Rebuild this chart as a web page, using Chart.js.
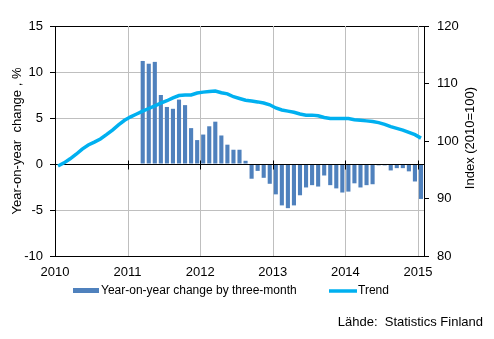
<!DOCTYPE html>
<html>
<head>
<meta charset="utf-8">
<script src="https://cdn.jsdelivr.net/npm/chart.js@4/dist/chart.umd.min.js"></script>
<style>
  html, body { margin: 0; padding: 0; background: #fff; }
  canvas { display: block; }
</style>
</head>
<body>
<canvas id="c" width="494" height="339"></canvas>
<script>
// Year labels on the time axis (one tick per January)
const years = ['2010', '2011', '2012', '2013', '2014', '2015'];

// Monthly categories, Jan 2010 .. Jan 2015
const months = [];
for (let y = 2010; y <= 2015; y++) {
  for (let m = 1; m <= 12; m++) {
    if (y === 2015 && m > 1) break;
    months.push(y + '-' + String(m).padStart(2, '0'));
  }
}

// Year-on-year change by three-month, %
const yoyChange = [
  null, null, null, null, null, null, null, null, null, null, null, null,
  null, null, 11.2, 10.9, 11.1, 7.5, 6.2, 6.0, 7.0, 6.4, 3.9, 2.6,
  3.2, 4.1, 4.6, 3.1, 2.1, 1.55, 1.55, 0.35, -1.6, -0.75, -1.5, -2.15,
  -3.3, -4.5, -4.8, -4.5, -3.4, -2.55, -2.3, -2.45, -1.25, -2.3, -2.65, -3.1,
  -3.0, -2.1, -2.55, -2.3, -2.2, -0.15, -0.15, -0.7, -0.45, -0.45, -0.8, -1.9,
  -3.8
];

// Trend, index 2010=100
const trend = [
  95.65, 96.2, 96.9, 97.7, 98.6, 99.3, 99.8, 100.35, 101.1, 101.9, 102.8, 103.6,
  104.2, 104.7, 105.2, 105.65, 106.1, 106.6, 107.0, 107.5, 107.9, 108.0, 108.0, 108.35,
  108.5, 108.6, 108.7, 108.4, 108.2, 107.7, 107.4, 107.1, 106.95, 106.8, 106.6, 106.3,
  105.75, 105.4, 105.2, 105.0, 104.7, 104.5, 104.5, 104.4, 104.1, 103.9, 103.9, 103.9,
  103.9, 103.7, 103.6, 103.5, 103.4, 103.2, 102.9, 102.5, 102.2, 101.9, 101.5, 101.1,
  100.5
];

const seriesNames = ['Year-on-year change by three-month', 'Trend'];
const leftTitle = 'Year-on-year  change , %';
const rightTitle = 'Index (2010=100)';
const sourceText = 'Lähde:  Statistics Finland';

const BAR_COLOR = '#4f81bd';
const LINE_COLOR = '#00b0f0';
const GRID_COLOR = '#bfbfbf';
const FONT = 'Liberation Sans, Arial, sans-serif';

// Each month occupies one unit on a linear axis; marks sit at the unit centre
const barPoints = months.map((m, i) => ({ x: i + 0.5, y: yoyChange[i] }));
const trendPoints = months.map((m, i) => ({ x: i + 0.5, y: trend[i] }));

// Vertical gridlines at each year boundary, behind the data
const yearGrid = {
  id: 'yearGrid',
  beforeDatasetsDraw(chart) {
    const { ctx, chartArea, scales } = chart;
    ctx.save();
    ctx.strokeStyle = GRID_COLOR;
    ctx.lineWidth = 1;
    ctx.beginPath();
    years.forEach((yr, k) => {
      if (k === 0) return;
      const x = Math.round(scales.x.getPixelForValue(k * 12)) + 0.5;
      ctx.moveTo(x, chartArea.top);
      ctx.lineTo(x, chartArea.bottom);
    });
    ctx.stroke();
    ctx.restore();
  }
};

// Zero axis line with crossing year ticks, drawn over the bars but under the trend
const zeroAxis = {
  id: 'zeroAxis',
  afterDatasetDraw(chart, args) {
    if (args.index !== 0) return;
    const { ctx, chartArea, scales } = chart;
    const y0 = Math.round(scales.y.getPixelForValue(0)) + 0.5;
    ctx.save();
    ctx.strokeStyle = '#000';
    ctx.lineWidth = 1;
    ctx.beginPath();
    ctx.moveTo(chartArea.left, y0);
    ctx.lineTo(chartArea.right, y0);
    years.forEach((yr, k) => {
      const x = Math.round(scales.x.getPixelForValue(k * 12)) + 0.5;
      ctx.moveTo(x, y0 - 4);
      ctx.lineTo(x, y0 + 5);
    });
    ctx.stroke();
    ctx.restore();
  }
};

// Right axis title (reads bottom-to-top), legend row and source line
const footer = {
  id: 'footer',
  afterDraw(chart) {
    const { ctx, chartArea } = chart;
    ctx.save();
    ctx.font = '13px ' + FONT;
    ctx.fillStyle = '#000';
    ctx.textBaseline = 'middle';
    ctx.textAlign = 'center';
    ctx.translate(470, (chartArea.top + chartArea.bottom) / 2 - 3);
    ctx.rotate(-Math.PI / 2);
    ctx.fillText(rightTitle, 0, 0);
    ctx.restore();

    ctx.save();
    ctx.font = '12px ' + FONT;
    ctx.fillStyle = '#000';
    ctx.textBaseline = 'middle';
    ctx.textAlign = 'left';
    const ly = 291;
    ctx.fillStyle = BAR_COLOR;
    ctx.fillRect(73, ly - 3, 26, 5);
    ctx.fillStyle = '#000';
    ctx.fillText(chart.data.datasets[0].label, 101, ly);
    ctx.strokeStyle = LINE_COLOR;
    ctx.lineWidth = 3.5;
    ctx.beginPath();
    ctx.moveTo(329, ly);
    ctx.lineTo(357, ly);
    ctx.stroke();
    ctx.fillText(chart.data.datasets[1].label, 358, ly);
    ctx.font = '13px ' + FONT;
    ctx.textAlign = 'right';
    ctx.fillText(sourceText, 483, 322);
    ctx.restore();
  }
};

new Chart(document.getElementById('c'), {
  data: {
    datasets: [
      {
        type: 'bar',
        label: seriesNames[0],
        data: barPoints,
        backgroundColor: BAR_COLOR,
        borderWidth: 0,
        barPercentage: 0.68,
        categoryPercentage: 1,
        yAxisID: 'y',
        order: 2
      },
      {
        type: 'line',
        label: seriesNames[1],
        data: trendPoints,
        borderColor: LINE_COLOR,
        borderWidth: 3.5,
        pointRadius: 0,
        tension: 0,
        fill: false,
        yAxisID: 'y1',
        order: 1
      }
    ]
  },
  options: {
    responsive: false,
    devicePixelRatio: 1,
    animation: false,
    layout: { padding: { top: 26, bottom: 0, left: 0, right: 0 } },
    plugins: {
      legend: { display: false },
      tooltip: { enabled: false },
      title: { display: false }
    },
    scales: {
      x: {
        type: 'linear',
        position: 'bottom',
        min: 0,
        max: months.length,
        offset: false,
        afterBuildTicks(scale) {
          scale.ticks = years.map((yr, k) => ({ value: k * 12 }));
        },
        afterFit(scale) { scale.height = 83; },
        ticks: {
          color: '#000',
          font: { family: FONT, size: 13 },
          padding: 9,
          maxRotation: 0,
          autoSkip: false,
          callback: (v) => years[Math.round(v / 12)]
        },
        grid: {
          drawOnChartArea: false,
          drawTicks: false
        },
        border: { display: true, color: '#000', width: 1 }
      },
      y: {
        position: 'left',
        min: -10,
        max: 15,
        afterBuildTicks(scale) {
          scale.ticks = [-10, -5, 0, 5, 10, 15].map((v) => ({ value: v }));
        },
        afterFit(scale) { scale.width = 55; },
        ticks: {
          color: '#000',
          font: { family: FONT, size: 13 },
          padding: 7
        },
        grid: {
          color: (c) => (c.tick && (c.tick.value === 15) ? '#000' : (c.tick && c.tick.value === 0 ? 'rgba(0,0,0,0)' : GRID_COLOR)),
          tickColor: '#000',
          tickLength: 5,
          lineWidth: 1
        },
        border: { display: true, color: '#000', width: 1 },
        title: {
          display: true,
          text: leftTitle,
          color: '#000',
          font: { family: FONT, size: 13 },
          padding: { top: 10, bottom: 0 }
        }
      },
      y1: {
        position: 'right',
        min: 80,
        max: 120,
        afterBuildTicks(scale) {
          scale.ticks = [80, 90, 100, 110, 120].map((v) => ({ value: v }));
        },
        afterFit(scale) { scale.width = 70; },
        ticks: {
          color: '#000',
          font: { family: FONT, size: 13 },
          padding: 8
        },
        grid: {
          drawOnChartArea: false,
          tickColor: '#000',
          tickLength: 5,
          lineWidth: 1
        },
        border: { display: true, color: '#000', width: 1 }
      }
    }
  },
  plugins: [yearGrid, zeroAxis, footer]
});
</script>
</body>
</html>
